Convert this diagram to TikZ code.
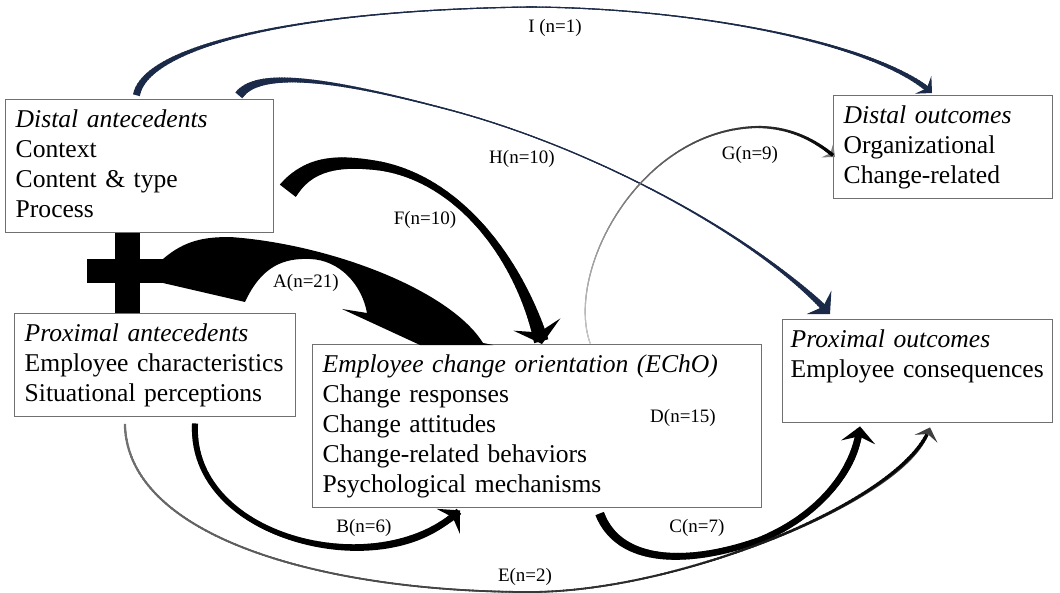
\documentclass[tikz,border=0pt]{standalone}
\usepackage{fontspec}
\setmainfont{Liberation Serif}
\usetikzlibrary{arrows.meta,decorations.markings,calc}

\definecolor{boxgray}{HTML}{707070}
\definecolor{linknavy}{HTML}{1B2A48}

\tikzset{
  box/.style={draw=boxgray, line width=0.7pt, anchor=north west, align=left,
    inner xsep=5pt, inner ysep=3.25pt, font=\fontsize{12.8}{15}\selectfont},
  lab/.style={font=\fontsize{9.5}{11}\selectfont, inner sep=0pt},
  taper exp/.store in=\texp, taper exp=4,
  % widths in px at start, middle and end; start tint; colour
  taper/.style n args={5}{postaction={decorate, decoration={markings,
    mark=between positions 0 and 0.99 step 0.004 with {
      \pgfmathsetmacro\tpos{(\pgfkeysvalueof{/pgf/decoration/mark info/sequence number}-1)*0.004}
      \pgfmathsetmacro\trad{(#2+(#1-#2)*(1-\tpos)^\texp+(#3-#2)*\tpos^\texp)/4}
      \pgfmathsetmacro\thl{0.004*\pgfdecoratedpathlength*0.7}
      \pgfmathsetmacro\ttint{#4+(100-#4)*\tpos}
      \fill[#5!\ttint!white] (-\thl pt,-\trad pt) -- (\thl pt,-\trad pt)
        -- (\thl pt,\trad pt) -- (-\thl pt,\trad pt) -- cycle;
    }}}},
  tinyhead/.style={-{Stealth[length=5pt,width=9pt,inset=2pt]}},
  smallhead/.style={-{Stealth[length=6pt,width=12pt,inset=2.5pt]}},
  bighead/.style={-{Stealth[length=8pt,width=17pt,inset=3pt]}},
  hugehead/.style={-{Stealth[length=10pt,width=24pt,inset=4pt]}},
}

\begin{document}
\begin{tikzpicture}[x=0.5pt,y=-0.5pt]
\useasboundingbox (0,0) rectangle (1060,593);

% boxes
\node[box, text width=124pt] (dant) at (5,99) {\strut\textit{Distal antecedents}\\ Context\\ Content \& type\\ Process\strut};
\node[box, text width=99.5pt] (dout) at (833,95) {\strut\textit{Distal outcomes}\\ Organizational\\ Change-related\strut};
\node[box, text width=130.5pt] (pant) at (14,313) {\strut\textit{Proximal antecedents}\\ Employee characteristics\\ Situational perceptions\strut};
\node[box, text width=214.5pt] (echo) at (312,344) {\strut\textit{Employee change orientation (EChO)}\\ Change responses\\ Change attitudes\\ Change-related behaviors\\ Psychological mechanisms\strut};
\node[box, text width=127pt, inner xsep=4pt] (pout) at (782,319) {\strut\textit{Proximal outcomes}\\ \mbox{Employee consequences}\\ \strut};

% the plus joining both antecedents
\coordinate (join) at (127,271);
\fill ($(join |- dant.south)+(-12.5,0)$) rectangle ($(join |- pant.north)+(12.5,0)$);
\fill ($(join)+(-40,-12)$) rectangle ($(join)+(38,12)$);

% A: block arrow from the plus
\fill (163,259) .. controls (185,240) and (205,237) .. (230,237)
  .. controls (330,244) and (450,290) .. (483,343) -- (493,345) -- (420,345) -- (342,309) -- (367,313)
  .. controls (362,285) and (340,260) .. (310,259)
  .. controls (285,258) and (262,265) .. (245,302) -- (163,283) -- cycle;

% I
\draw[linknavy, line width=0.55pt, smallhead, taper exp=9, taper={7}{1.1}{5.5}{100}{linknavy}]
  ($(dant.north west)+(132,-6)$) .. controls (150,45) and (300,10) .. (530,7)
  .. controls (700,8) and (880,45) .. ($(dout.north west)+(99,-2)$);
% H
\draw[linknavy, line width=0.55pt, bighead, taper exp=9, taper={9}{1.1}{7}{100}{linknavy}]
  ($(dant.north west)+(235,-5)$) .. controls (260,70) and (330,78) .. (450,110)
  .. controls (600,150) and (760,240) .. ($(pout.north west)+(48,-5)$);
% G
\draw[gray, line width=0.5pt, tinyhead, taper={1}{1.3}{3.5}{20}{black}]
  ($(echo.north west)+(278,-1)$) .. controls (565,270) and (640,130) .. (757,127)
  .. controls (790,127) and (815,140) .. ($(dout.north west)+(2,62)$);
% F
\draw[black, line width=2pt, hugehead, taper={20}{5}{15}{100}{black}]
  ($(dant.north east)+(14,91)$) .. controls (310,162) and (340,160) .. (380,166)
  .. controls (460,180) and (520,260) .. ($(echo.north west)+(230,0)$);
% B
\draw[black, line width=2pt, bighead, taper={6}{5}{7}{100}{black}]
  ($(pant.south west)+(181,7)$) .. controls (190,540) and (380,585) .. ($(echo.south west)+(148,2)$);
% C
\draw[black, line width=2.5pt, bighead, taper={9}{6}{7}{100}{black}]
  ($(echo.south west)+(288,6)$) .. controls (620,565) and (690,565) .. (760,540)
  .. controls (820,515) and (855,470) .. ($(pout.south west)+(78,3)$);
% E
\draw[black!75, line width=0.7pt, smallhead, taper={2.2}{1.6}{3.5}{55}{black}]
  ($(pant.south west)+(111,9)$) .. controls (130,540) and (330,592) .. (530,592)
  .. controls (680,592) and (905,500) .. ($(pout.south west)+(148,4)$);

% labels
\node[lab] (lI) at (555,28) {I (n=1)};
\node[lab] (lH) at (522,159) {H(n=10)};
\node[lab] (lG) at (750,155) {G(n=9)};
\node[lab] (lF) at (425,220) {F(n=10)};
\node[lab] (lA) at (306,283) {A(n=21)};
\node[lab] (lD) at (683,418) {D(n=15)};
\node[lab] (lB) at (364,528) {B(n=6)};
\node[lab] (lC) at (697,528) {C(n=7)};
\node[lab] (lE) at (525,577) {E(n=2)};
\end{tikzpicture}
\end{document}
